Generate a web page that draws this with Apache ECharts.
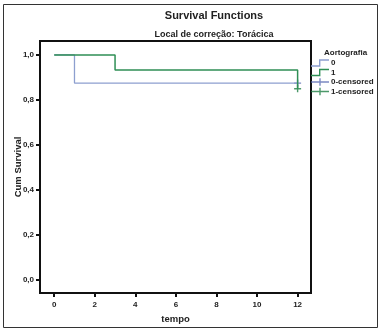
<!DOCTYPE html>
<html><head><meta charset="utf-8">
<script src="https://cdn.jsdelivr.net/npm/echarts@6/dist/echarts.min.js"></script>
<style>html,body{margin:0;padding:0;background:#fff}#c{width:383px;height:332px}</style>
</head><body><div id="c"></div>
<script>
const groupNames = ['0', '1'];
const censorNames = ['0-censored', '1-censored'];
const times0 = [0, 1, 12];
const surv0 = [1.0, 0.875, 0.875];
const times1 = [0, 3, 12];
const surv1 = [1.0, 0.933, 0.85];
const censorTimes0 = [12];
const censorSurv0 = [0.875];
const censorTimes1 = [12];
const censorSurv1 = [0.85];
const xTicks = [0, 2, 4, 6, 8, 10, 12];
const yTicks = [0.0, 0.2, 0.4, 0.6, 0.8, 1.0];

const zip = (a, b) => a.map((v, i) => [v, b[i]]);
const blue = '#8d9fcf', green = '#2f8f55', blueMark = '#5a6bb3', greenMark = '#1f7f45';
const stepIcon = 'path://M0,6 L8,6 L8,0 L18,0 L18,1.4 L9.4,1.4 L9.4,7.4 L0,7.4 Z';
const censIcon = 'path://M0,3 L18,3 L18,4.4 L0,4.4 Z M8.3,0 L9.7,0 L9.7,7.4 L8.3,7.4 Z';
const plusSym = 'path://M0,4 L10,4 L10,6 L0,6 Z M4,0 L6,0 L6,10 L4,10 Z';
const font = 'Liberation Sans, Arial, sans-serif';

const chart = echarts.init(document.getElementById('c'));
chart.setOption({
  animation: false,
  title: [
    {text: 'Survival Functions', left: 209, top: 5, textAlign: 'center',
     textStyle: {fontFamily: font, fontSize: 11, fontWeight: 'bold', color: '#222'}},
    {text: 'Local de correção: Torácica', left: 209, top: 25, textAlign: 'center',
     textStyle: {fontFamily: font, fontSize: 9, fontWeight: 'bold', color: '#222'}},
    {text: 'Aortografia', left: 319, top: 44,
     textStyle: {fontFamily: font, fontSize: 8, fontWeight: 'bold', color: '#222'}}
  ],
  graphic: [
    {type: 'rect', shape: {x: 3.5, y: 4.5, width: 374, height: 323}, style: {fill: 'none', stroke: '#333', lineWidth: 1}}
  ],
  legend: {
    orient: 'vertical', left: 311, top: 59, itemGap: 1.5, itemWidth: 18, itemHeight: 7.4, padding: 0,
    data: [
      {name: groupNames[0], icon: stepIcon},
      {name: groupNames[1], icon: stepIcon},
      {name: censorNames[0], icon: censIcon},
      {name: censorNames[1], icon: censIcon}
    ],
    textStyle: {fontFamily: font, fontSize: 8, fontWeight: 'bold', color: '#222', padding: [0, 0, 0, -3]}
  },
  grid: {left: 40, right: 72, top: 41, bottom: 39, show: true, borderColor: '#111', borderWidth: 2,
         containLabel: false, outerBoundsMode: 'none'},
  xAxis: {
    type: 'value', min: -0.7, max: 12.66,
    name: 'tempo', nameLocation: 'middle', nameGap: 20,
    nameTextStyle: {fontFamily: font, fontSize: 9.5, fontWeight: 'bold', color: '#222'},
    axisLine: {show: false, onZero: false}, splitLine: {show: false},
    axisTick: {show: true, length: 4, customValues: xTicks, lineStyle: {color: '#111', width: 2}},
    axisLabel: {customValues: xTicks, fontFamily: font, fontSize: 8, fontWeight: 'bold', color: '#222', margin: 8}
  },
  yAxis: {
    type: 'value', min: -0.058, max: 1.062,
    name: 'Cum Survival', nameLocation: 'middle', nameGap: 17, nameMoveOverlap: false,
    nameTextStyle: {fontFamily: font, fontSize: 9.5, fontWeight: 'bold', color: '#222'},
    axisLine: {show: false, onZero: false}, splitLine: {show: false},
    axisTick: {show: true, length: 4, customValues: yTicks, lineStyle: {color: '#111', width: 2}},
    axisLabel: {customValues: yTicks, fontFamily: font, fontSize: 8, fontWeight: 'bold', color: '#222', margin: 6,
      formatter: v => v.toFixed(1).replace('.', ',')}
  },
  series: [
    {name: groupNames[0], type: 'line', step: 'end', data: zip(times0, surv0), showSymbol: false, symbol: 'none',
     itemStyle: {color: blue}, lineStyle: {color: blue, width: 1.3}},
    {name: groupNames[1], type: 'line', step: 'end', data: zip(times1, surv1), showSymbol: false, symbol: 'none',
     itemStyle: {color: green}, lineStyle: {color: green, width: 1.5}},
    {name: censorNames[0], type: 'scatter', data: zip(censorTimes0, censorSurv0), symbol: plusSym, symbolSize: 7,
     itemStyle: {color: blueMark}},
    {name: censorNames[1], type: 'scatter', data: zip(censorTimes1, censorSurv1), symbol: plusSym, symbolSize: 7,
     itemStyle: {color: greenMark}}
  ]
});
</script></body></html>
